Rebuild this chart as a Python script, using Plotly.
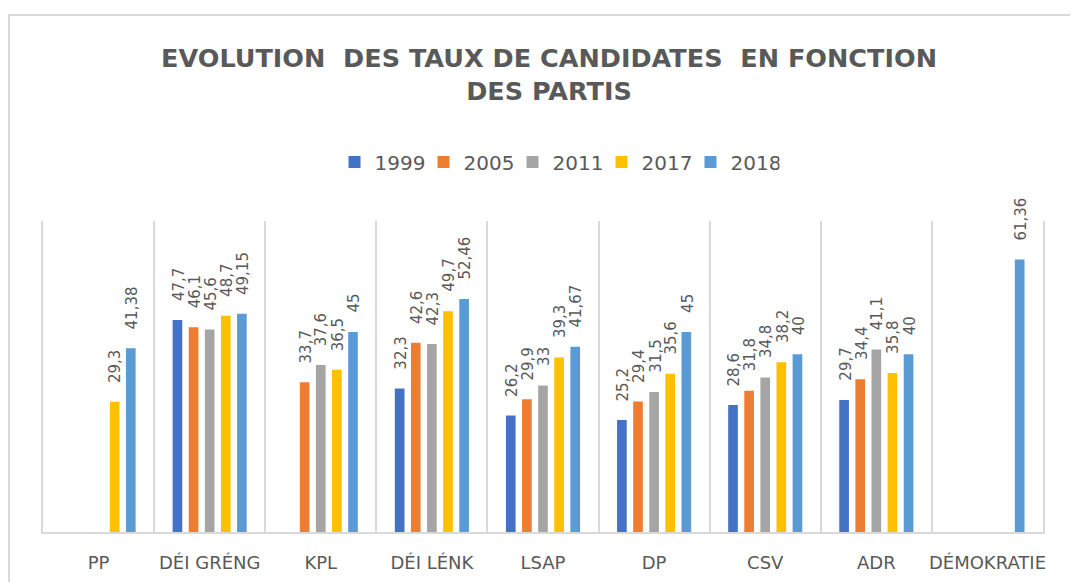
import plotly.graph_objects as go

parties = ["PP", "DÉI GRÉNG", "KPL", "DÉI LÉNK", "LSAP", "DP", "CSV", "ADR", "DÉMOKRATIE"]
years = ["1999", "2005", "2011", "2017", "2018"]

v1999 = [None, 47.7, None, 32.3, 26.2, 25.2, 28.6, 29.7, None]
v2005 = [None, 46.1, 33.7, 42.6, 29.9, 29.4, 31.8, 34.4, None]
v2011 = [None, 45.6, 37.6, 42.3, 33.0, 31.5, 34.8, 41.1, None]
v2017 = [29.3, 48.7, 36.5, 49.7, 39.3, 35.6, 38.2, 35.8, None]
v2018 = [41.38, 49.15, 45.0, 52.46, 41.67, 45.0, 40.0, 40.0, 61.36]

series = [v1999, v2005, v2011, v2017, v2018]
colors = ["#4472C4", "#ED7D31", "#A5A5A5", "#FFC000", "#5B9BD5"]

GREY = "#595959"
FONT = "DejaVu Sans"

W, H = 1078, 582
ML, MR, MT, MB = 35, 43, 213, 58
BARGAP = 0.275


def fmt(v):
    if v is None:
        return ""
    return f"{v:g}".replace(".", ",")


fig = go.Figure()
for name, vals, col in zip(years, series, colors):
    fig.add_trace(go.Bar(
        name=name,
        x=parties,
        y=vals,
        marker=dict(color=col, line=dict(width=0)),
        hoverinfo="x+y+name",
    ))

# data labels (rotated, above each bar), offset to each bar's slot in the group
plot_w = W - ML - MR
slot = plot_w / len(parties) * (1 - BARGAP) / len(years)
annotations = []
for i, vals in enumerate(series):
    for party, v in zip(parties, vals):
        if v is None:
            continue
        annotations.append(dict(
            x=party, y=v, xref="x", yref="y",
            text=fmt(v), showarrow=False, textangle=-90,
            xanchor="center", yanchor="bottom",
            xshift=(i - (len(years) - 1) / 2) * slot + 1,
            yshift=17,
            font=dict(family=FONT, size=15, color=GREY),
        ))

fig.update_layout(
    width=W,
    height=H,
    paper_bgcolor="white",
    plot_bgcolor="white",
    barmode="group",
    bargap=BARGAP,
    bargroupgap=0.4,
    margin=dict(l=ML, r=MR, t=MT, b=MB, autoexpand=False),
    title=dict(
        text="EVOLUTION  DES TAUX DE CANDIDATES  EN FONCTION<br>DES PARTIS",
        font=dict(family=FONT, size=25.5, color=GREY, weight="bold"),
        x=0.506, xref="paper", xanchor="center",
        y=1 - 59 / 582, yref="container", yanchor="top",
    ),
    legend=dict(
        orientation="h",
        x=0.514, xanchor="center",
        y=1.19, yanchor="middle",
        font=dict(family=FONT, size=20, color=GREY),
        itemwidth=30,
        entrywidth=44,
        tracegroupgap=0,
    ),
    xaxis=dict(
        type="category",
        tickson="boundaries",
        showgrid=True,
        gridcolor="#D9D9D9",
        gridwidth=1.5,
        showline=True,
        linecolor="#D9D9D9",
        linewidth=1.5,
        ticks="",
        tickangle=0,
        automargin=False,
        ticklabelstandoff=14,
        tickfont=dict(family=FONT, size=18, color=GREY),
    ),
    yaxis=dict(
        range=[0, 70],
        showgrid=False,
        zeroline=False,
        showticklabels=False,
        showline=True,
        mirror=True,
        linecolor="#D9D9D9",
        linewidth=1.5,
        automargin=False,
    ),
    annotations=annotations,
    shapes=[dict(
        type="rect", xref="paper", yref="paper",
        x0=-0.034, x1=1.06, y0=-0.25, y1=1.662,
        line=dict(color="#D9D9D9", width=2),
        fillcolor="rgba(0,0,0,0)", layer="below",
    )],
)

fig.write_html("out.html")
